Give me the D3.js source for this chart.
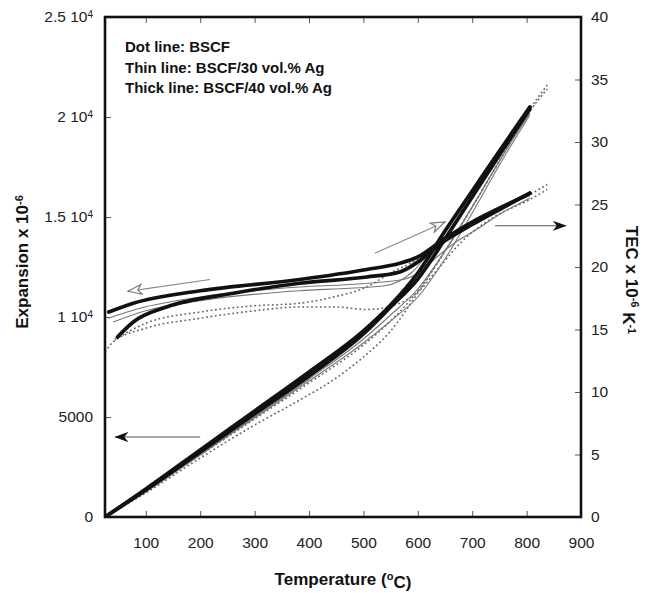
<!DOCTYPE html>
<html>
<head>
<meta charset="utf-8">
<script src="https://cdn.jsdelivr.net/npm/d3@7"></script>
<style>
  body { margin: 0; background: #fff; }
  svg { font-family: "Liberation Sans", Arial, sans-serif; }
  .tick line { stroke: #555; stroke-width: 1; }
  .tick text { fill: #222; font-size: 15.5px; }
</style>
</head>
<body>
<div id="vis"></div>
<script>
const FRAME_WIDTH = 656;
const FRAME_HEIGHT = 593;
const MARGINS = {left: 105, right: 75, top: 17, bottom: 76};

// ------------------------------------------------------------
// data: [temperature degC, value]
// expansion in 1e-6, TEC in 1e-6 K-1
// ------------------------------------------------------------
const xTicks = [100, 200, 300, 400, 500, 600, 700, 800, 900];
const leftTicks = [0, 5000, 10000, 15000, 20000, 25000];
const leftTickLabels = [["0", ""], ["5000", ""], ["1 10", "4"], ["1.5 10", "4"], ["2 10", "4"], ["2.5 10", "4"]];
const rightTicks = [0, 5, 10, 15, 20, 25, 30, 35, 40];

const legendLines = ["Dot line: BSCF", "Thin line: BSCF/30 vol.% Ag", "Thick line: BSCF/40 vol.% Ag"];

// expansion curves (left axis)
const expDotA = [[25,0],[100,1200],[200,2950],[300,4600],[383,5850],[450,6950],[500,8000],[550,9300],[600,11200],[650,13300],[700,15500],[750,17800],[806,20300],[838,21400]];
const expDotB = [[25,0],[100,1300],[200,3100],[300,4900],[400,6700],[500,8600],[550,9800],[600,11300],[650,13300],[700,15500],[750,17800],[806,20400],[838,21600]];
const expThinA = [[25,0],[100,1300],[200,3150],[300,5000],[400,6900],[500,8900],[550,10100],[600,11400],[650,13300],[700,15500],[750,17800],[806,20200]];
const expThinB = [[25,0],[100,1250],[200,3100],[300,4950],[400,6800],[500,8700],[550,9800],[600,11000],[650,12900],[700,15200],[750,17600],[806,20100]];
const expThickA = [[25,0],[100,1350],[200,3250],[300,5150],[400,7050],[500,9150],[550,10500],[600,11900],[650,13900],[700,16000],[750,18100],[806,20400]];
const expThickB = [[25,0],[100,1400],[200,3350],[300,5300],[400,7250],[500,9300],[550,10600],[600,12200],[650,14300],[700,16300],[750,18300],[806,20500]];

// TEC curves (right axis)
const tecDotA = [[25,13.2],[40,14.0],[100,15.1],[200,15.9],[300,16.5],[383,16.8],[450,16.8],[506,16.6],[545,16.8],[600,18.0],[640,20.0],[680,22.0],[740,24.0],[806,25.4],[838,26.2]];
const tecDotB = [[43,14.2],[100,15.5],[200,16.4],[300,16.9],[383,17.1],[445,17.6],[506,18.4],[549,19.5],[586,20.3],[630,21.5],[680,23.0],[740,24.5],[806,25.8],[838,26.6]];
const tecThinA = [[31,15.9],[89,16.7],[200,17.6],[383,18.4],[475,18.6],[573,19.0],[610,19.8],[635,20.8],[670,22.0],[708,23.0],[750,24.2],[806,25.5]];
const tecThinB = [[40,15.6],[100,16.5],[200,17.3],[383,18.1],[475,18.3],[540,18.5],[590,19.6],[630,21.6],[680,23.2],[740,24.5],[806,25.7]];
const tecThickA = [[32,16.4],[77,17.1],[200,18.1],[383,19.0],[506,19.8],[567,20.3],[600,20.8],[650,22.3],[700,23.6],[750,24.7],[806,25.9]];
const tecThickB = [[48,14.4],[77,15.6],[138,16.8],[261,17.9],[383,18.7],[506,19.2],[567,19.6],[600,20.4],[640,21.8],[700,23.4],[750,24.6],[806,25.9]];

// annotation arrows, [T, value] start -> end
const arrowExp = [[200, 4000], [44, 4000]];
const arrowTec = [[742, 23.3], [872, 23.3]];
const arrowCool = [[218, 19.0], [67, 18.05]];
const arrowHeat = [[521, 21.1], [650, 23.6]];

const VIS_WIDTH = FRAME_WIDTH - MARGINS.left - MARGINS.right;
const VIS_HEIGHT = FRAME_HEIGHT - MARGINS.top - MARGINS.bottom;

const svg = d3.select("#vis")
  .append("svg")
    .attr("width", FRAME_WIDTH)
    .attr("height", FRAME_HEIGHT);

const X_SCALE = d3.scaleLinear().domain([25, 900]).range([MARGINS.left, MARGINS.left + VIS_WIDTH]);
const YL_SCALE = d3.scaleLinear().domain([0, 25000]).range([MARGINS.top + VIS_HEIGHT, MARGINS.top]);
const YR_SCALE = d3.scaleLinear().domain([0, 40]).range([MARGINS.top + VIS_HEIGHT, MARGINS.top]);

// markers for the arrows
const defs = svg.append("defs");
defs.append("marker")
    .attr("id", "solidHead")
    .attr("viewBox", "0 0 14 10")
    .attr("refX", 13).attr("refY", 5)
    .attr("markerWidth", 14).attr("markerHeight", 10)
    .attr("markerUnits", "userSpaceOnUse")
    .attr("orient", "auto")
  .append("path")
    .attr("d", "M0,0 L14,5 L0,10 L4,5 Z")
    .attr("fill", "#111");
defs.append("marker")
    .attr("id", "openHead")
    .attr("viewBox", "0 0 16 12")
    .attr("refX", 15).attr("refY", 6)
    .attr("markerWidth", 16).attr("markerHeight", 12)
    .attr("markerUnits", "userSpaceOnUse")
    .attr("orient", "auto")
  .append("path")
    .attr("d", "M1,1 L15,6 L1,11 L5,6 Z")
    .attr("fill", "#fff")
    .attr("stroke", "#777")
    .attr("stroke-width", 1.1);

// clip so lines stay in the frame
defs.append("clipPath").attr("id", "plotClip")
  .append("rect")
    .attr("x", MARGINS.left).attr("y", MARGINS.top)
    .attr("width", VIS_WIDTH).attr("height", VIS_HEIGHT);

// axes
svg.append("g")
    .attr("transform", "translate(0," + (MARGINS.top + VIS_HEIGHT) + ")")
    .call(d3.axisBottom(X_SCALE).tickValues(xTicks).tickSize(-6).tickPadding(20))
    .call(g => g.select(".domain").remove());

svg.append("g")
    .attr("transform", "translate(0," + MARGINS.top + ")")
    .call(d3.axisTop(X_SCALE).tickValues(xTicks.slice(0, -1)).tickSize(-6).tickFormat(""))
    .call(g => g.select(".domain").remove());

const leftAxis = svg.append("g")
    .attr("transform", "translate(" + MARGINS.left + ",0)")
    .call(d3.axisLeft(YL_SCALE).tickValues(leftTicks).tickSize(-6).tickPadding(12).tickFormat(""))
    .call(g => g.select(".domain").remove());

leftAxis.selectAll(".tick text").each(function(d, i) {
  const t = d3.select(this);
  const lab = leftTickLabels[i];
  t.append("tspan").text(lab[0]);
  if (lab[1]) {
    t.append("tspan").attr("dy", "-0.45em").attr("font-size", "10px").text(lab[1]);
  }
});

svg.append("g")
    .attr("transform", "translate(" + (MARGINS.left + VIS_WIDTH) + ",0)")
    .call(d3.axisRight(YR_SCALE).tickValues(rightTicks).tickSize(-6).tickPadding(10))
    .call(g => g.select(".domain").remove());

// curves
const lineL = d3.line().x(d => X_SCALE(d[0])).y(d => YL_SCALE(d[1])).curve(d3.curveMonotoneX);
const lineR = d3.line().x(d => X_SCALE(d[0])).y(d => YR_SCALE(d[1])).curve(d3.curveMonotoneX);

const plot = svg.append("g").attr("clip-path", "url(#plotClip)");

const curves = [
  {d: expDotA, f: lineL, s: "dot"}, {d: expDotB, f: lineL, s: "dot"},
  {d: tecDotA, f: lineR, s: "dot"}, {d: tecDotB, f: lineR, s: "dot"},
  {d: expThinA, f: lineL, s: "thin"}, {d: expThinB, f: lineL, s: "thin"},
  {d: tecThinA, f: lineR, s: "thin"}, {d: tecThinB, f: lineR, s: "thin"},
  {d: expThickA, f: lineL, s: "thick"}, {d: expThickB, f: lineL, s: "thick"},
  {d: tecThickA, f: lineR, s: "thick"}, {d: tecThickB, f: lineR, s: "thick"}
];

plot.selectAll(".curve")
  .data(curves)
  .enter()
  .append("path")
    .attr("class", "curve")
    .attr("d", c => c.f(c.d))
    .attr("fill", "none")
    .attr("stroke", c => c.s === "thick" ? "#111" : (c.s === "thin" ? "#777" : "#666"))
    .attr("stroke-width", c => c.s === "thick" ? 3.7 : (c.s === "thin" ? 1.1 : 1.6))
    .attr("stroke-dasharray", c => c.s === "dot" ? "1.8,2.6" : null)
    .attr("stroke-linecap", c => c.s === "thick" ? "round" : "butt");

// arrows
const arrows = [
  {d: arrowExp, y: YL_SCALE, m: "solidHead"},
  {d: arrowTec, y: YR_SCALE, m: "solidHead"},
  {d: arrowCool, y: YR_SCALE, m: "openHead"},
  {d: arrowHeat, y: YR_SCALE, m: "openHead"}
];
svg.selectAll(".arrow")
  .data(arrows)
  .enter()
  .append("line")
    .attr("class", "arrow")
    .attr("x1", a => X_SCALE(a.d[0][0])).attr("y1", a => a.y(a.d[0][1]))
    .attr("x2", a => X_SCALE(a.d[1][0])).attr("y2", a => a.y(a.d[1][1]))
    .attr("stroke", a => a.m === "solidHead" ? "#555" : "#888")
    .attr("stroke-width", 1.1)
    .attr("marker-end", a => "url(#" + a.m + ")");

// frame
svg.append("rect")
    .attr("x", MARGINS.left).attr("y", MARGINS.top)
    .attr("width", VIS_WIDTH).attr("height", VIS_HEIGHT)
    .attr("fill", "none")
    .attr("stroke", "#111")
    .attr("stroke-width", 2.6);

// legend
svg.selectAll(".legend")
  .data(legendLines)
  .enter()
  .append("text")
    .attr("class", "legend")
    .attr("x", 125)
    .attr("y", (d, i) => 52 + i * 20.5)
    .attr("font-size", "15px")
    .attr("font-weight", "bold")
    .attr("fill", "#111")
    .text(d => d);

// axis titles
const xTitle = svg.append("text")
    .attr("x", MARGINS.left + VIS_WIDTH / 2)
    .attr("y", 585)
    .attr("text-anchor", "middle")
    .attr("font-size", "17px")
    .attr("font-weight", "bold")
    .attr("fill", "#111");
xTitle.append("tspan").text("Temperature (");
xTitle.append("tspan").attr("dy", "-0.45em").attr("font-size", "11px").text("o");
xTitle.append("tspan").attr("dy", "0.45em").text("C)");

const yTitle = svg.append("text")
    .attr("transform", "translate(28,262) rotate(-90)")
    .attr("text-anchor", "middle")
    .attr("font-size", "17px")
    .attr("font-weight", "bold")
    .attr("fill", "#111");
yTitle.append("tspan").text("Expansion x 10");
yTitle.append("tspan").attr("dy", "-0.45em").attr("font-size", "11px").text("-6");

const rTitle = svg.append("text")
    .attr("transform", "translate(626,280) rotate(90)")
    .attr("text-anchor", "middle")
    .attr("font-size", "17px")
    .attr("font-weight", "bold")
    .attr("fill", "#111");
rTitle.append("tspan").text("TEC x 10");
rTitle.append("tspan").attr("dy", "-0.45em").attr("font-size", "11px").text("-6");
rTitle.append("tspan").attr("dy", "0.45em").text(" K");
rTitle.append("tspan").attr("dy", "-0.45em").attr("font-size", "11px").text("-1");
</script>
</body>
</html>
